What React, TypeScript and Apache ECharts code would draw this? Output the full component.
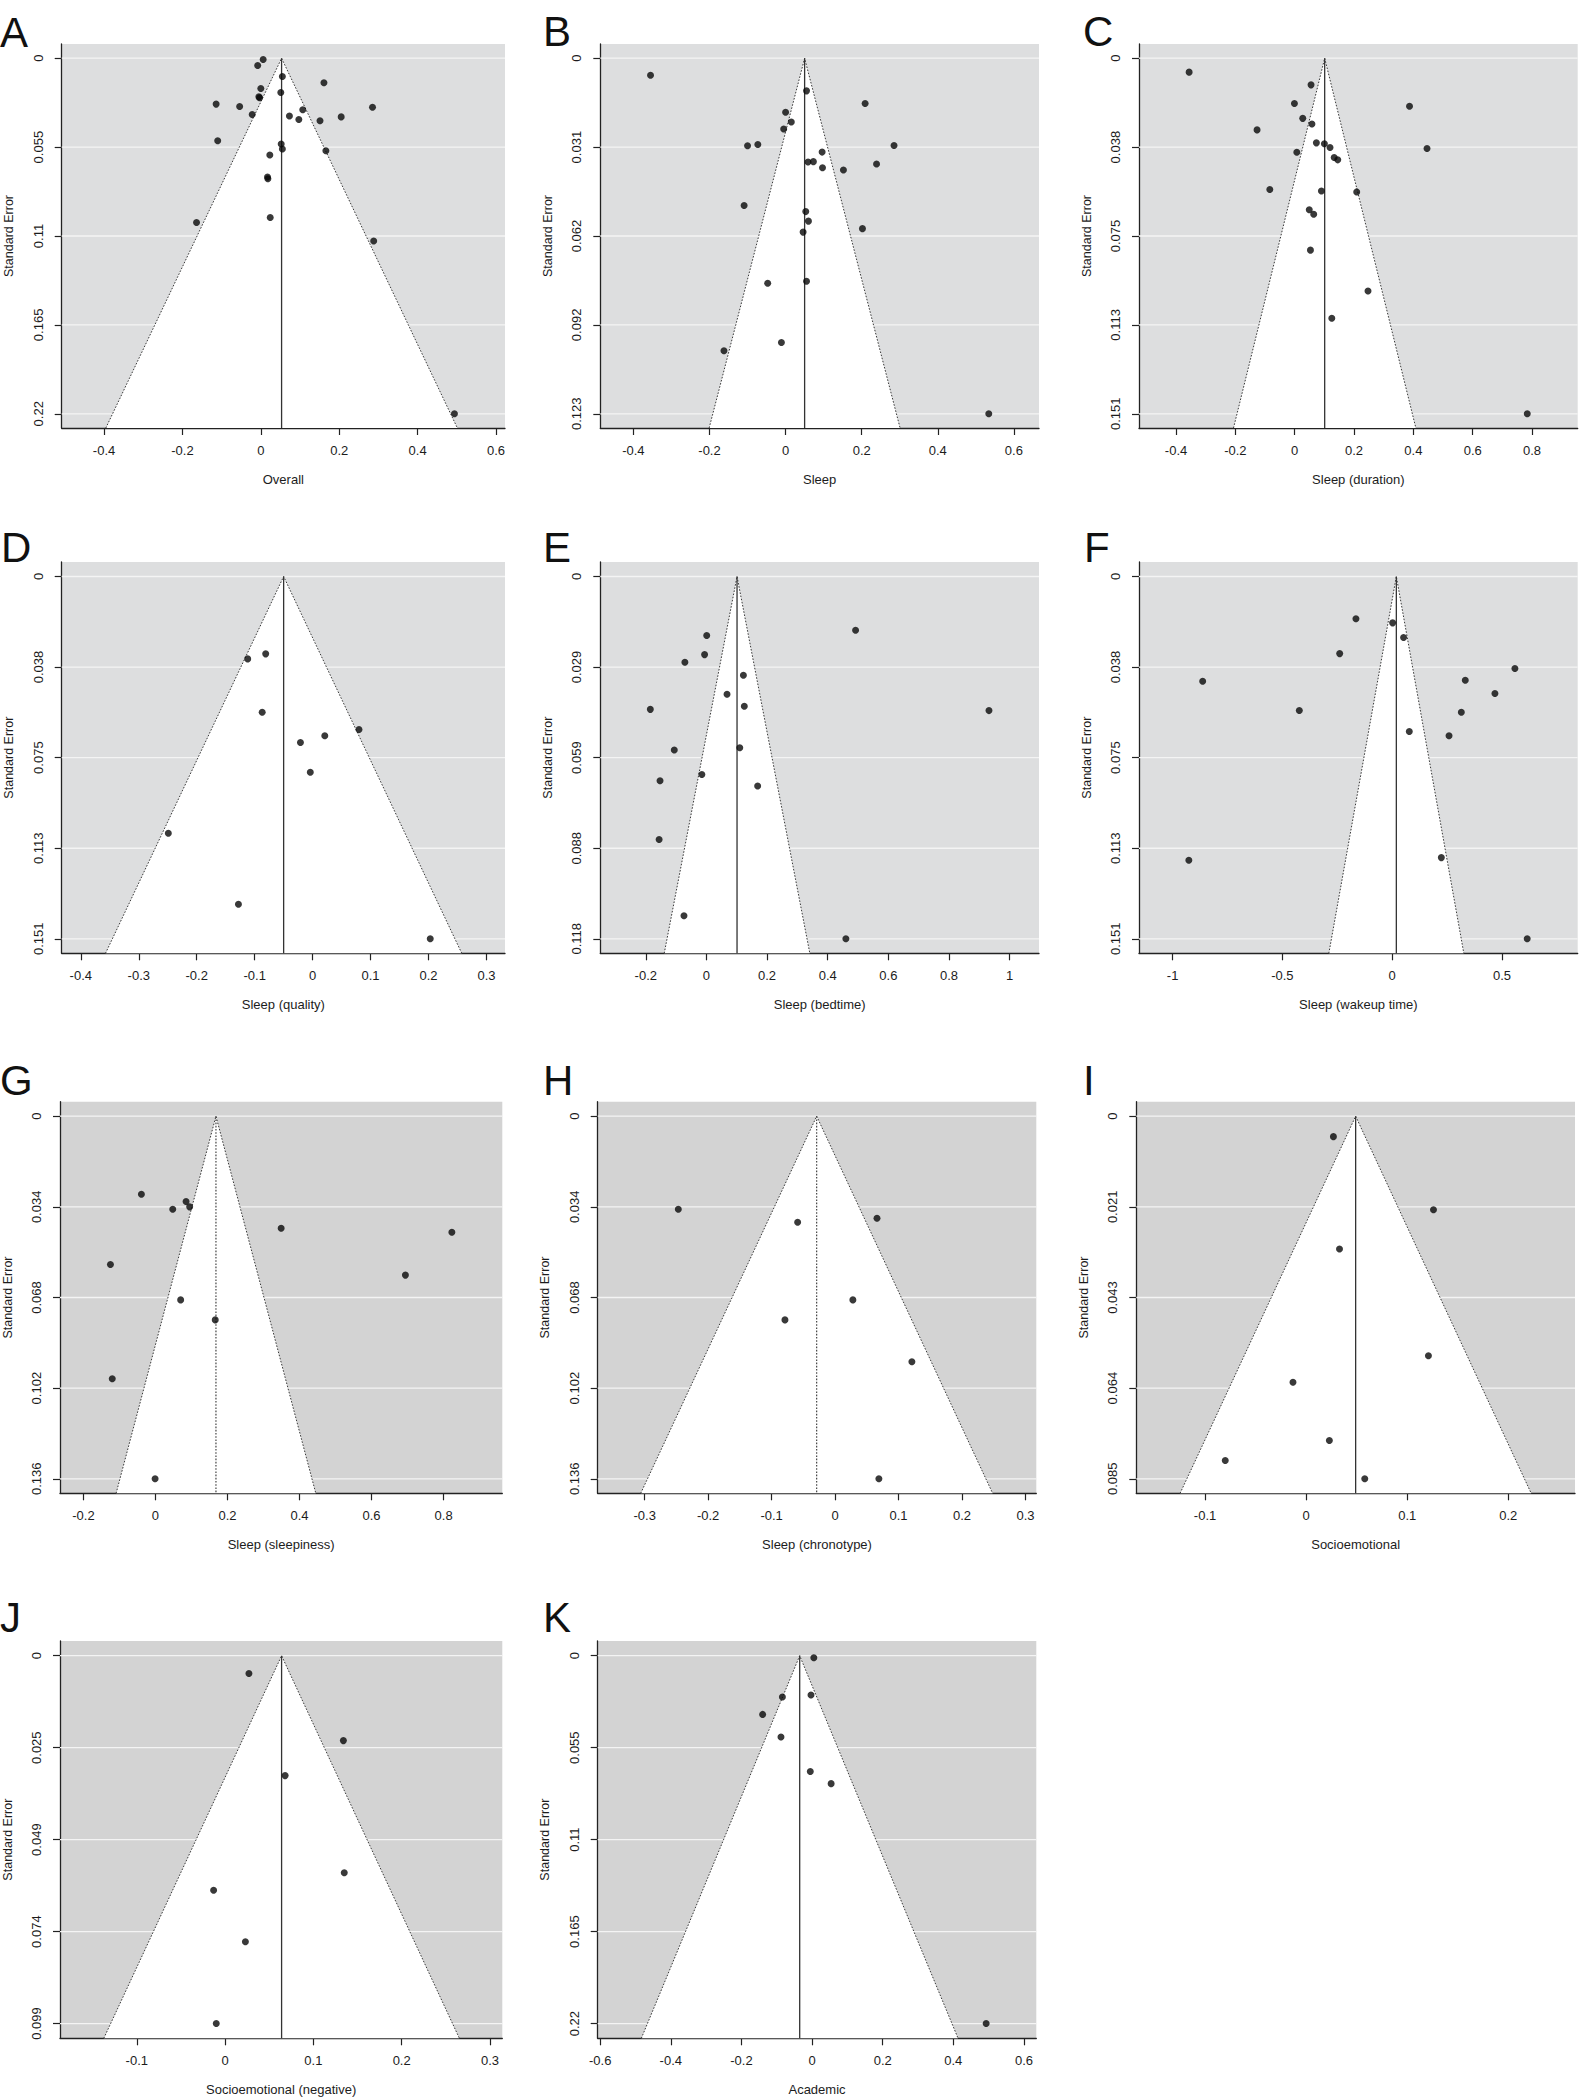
import React, { useEffect, useRef } from "react";
import * as echarts from "echarts";

// ---------- Panel meta ----------
const panelLetters = ["A", "B", "C", "D", "E", "F", "G", "H", "I", "J", "K"];
const effectTitles = [
  "Overall",
  "Sleep",
  "Sleep (duration)",
  "Sleep (quality)",
  "Sleep (bedtime)",
  "Sleep (wakeup time)",
  "Sleep (sleepiness)",
  "Sleep (chronotype)",
  "Socioemotional",
  "Socioemotional (negative)",
  "Academic",
];
const pooledEstimates = [0.053, 0.05, 0.101, -0.05, 0.101, 0.019, 0.168, -0.029, 0.049, 0.064, -0.035];
const dottedEstimateLine = [false, false, false, false, false, false, true, true, false, false, false];
const maxStandardError = [0.22, 0.1231, 0.1508, 0.1508, 0.1178, 0.1508, 0.136, 0.136, 0.0852, 0.0988, 0.22];
const seTickLabels = [
  ["0", "0.055", "0.11", "0.165", "0.22"],
  ["0", "0.031", "0.062", "0.092", "0.123"],
  ["0", "0.038", "0.075", "0.113", "0.151"],
  ["0", "0.038", "0.075", "0.113", "0.151"],
  ["0", "0.029", "0.059", "0.088", "0.118"],
  ["0", "0.038", "0.075", "0.113", "0.151"],
  ["0", "0.034", "0.068", "0.102", "0.136"],
  ["0", "0.034", "0.068", "0.102", "0.136"],
  ["0", "0.021", "0.043", "0.064", "0.085"],
  ["0", "0.025", "0.049", "0.074", "0.099"],
  ["0", "0.055", "0.11", "0.165", "0.22"],
];
const effectTicks = [
  [-0.4, -0.2, 0, 0.2, 0.4, 0.6],
  [-0.4, -0.2, 0, 0.2, 0.4, 0.6],
  [-0.4, -0.2, 0, 0.2, 0.4, 0.6, 0.8],
  [-0.4, -0.3, -0.2, -0.1, 0, 0.1, 0.2, 0.3],
  [-0.2, 0, 0.2, 0.4, 0.6, 0.8, 1],
  [-1, -0.5, 0, 0.5],
  [-0.2, 0, 0.2, 0.4, 0.6, 0.8],
  [-0.3, -0.2, -0.1, 0, 0.1, 0.2, 0.3],
  [-0.1, 0, 0.1, 0.2],
  [-0.1, 0, 0.1, 0.2, 0.3],
  [-0.6, -0.4, -0.2, 0, 0.2, 0.4, 0.6],
];
const effectMin = [-0.508, -0.487, -0.525, -0.433, -0.35, -1.153, -0.265, -0.374, -0.168, -0.187, -0.607];
const effectMax = [0.623, 0.666, 0.954, 0.332, 1.097, 0.845, 0.963, 0.317, 0.266, 0.314, 0.635];

// ---------- Study-level data ----------
const overallEffect = [0.006, -0.008, 0.055, 0.161, 0.0, 0.051, -0.005, -0.003, -0.114, -0.054, 0.285, 0.107, -0.022, 0.073, 0.205, 0.097, 0.151, -0.11, 0.052, 0.055, 0.166, 0.023, 0.017, 0.018, 0.024, -0.164, 0.288, 0.494];
const overallSE = [0.0008, 0.0045, 0.0113, 0.0152, 0.0187, 0.0212, 0.0239, 0.0245, 0.0284, 0.0299, 0.0303, 0.0319, 0.0348, 0.0358, 0.0363, 0.0379, 0.0387, 0.0511, 0.0531, 0.0562, 0.0573, 0.0599, 0.0735, 0.0746, 0.0985, 0.1016, 0.1131, 0.22];

const sleepEffect = [-0.355, 0.055, 0.209, 0.0, 0.015, -0.005, -0.1, -0.073, 0.285, 0.096, 0.059, 0.073, 0.239, 0.097, 0.152, -0.109, 0.053, 0.06, 0.202, 0.046, -0.047, 0.055, -0.011, -0.162, 0.534];
const sleepSE = [0.0059, 0.0113, 0.0157, 0.0187, 0.0221, 0.0245, 0.0303, 0.0299, 0.0302, 0.0325, 0.0359, 0.0358, 0.0366, 0.0379, 0.0387, 0.051, 0.0531, 0.0564, 0.059, 0.0602, 0.0779, 0.0772, 0.0984, 0.1013, 0.1231];

const durationEffect = [-0.356, 0.055, -0.001, 0.387, 0.027, 0.058, -0.127, 0.073, 0.1, 0.119, 0.446, 0.007, 0.133, 0.145, -0.084, 0.09, 0.209, 0.049, 0.064, 0.053, 0.247, 0.125, 0.784];
const durationSE = [0.0059, 0.0113, 0.0192, 0.0204, 0.0255, 0.0279, 0.0304, 0.0359, 0.0363, 0.0379, 0.0383, 0.0399, 0.0421, 0.0431, 0.0557, 0.0563, 0.0567, 0.0643, 0.0662, 0.0814, 0.0987, 0.1103, 0.1508];

const qualityEffect = [-0.081, -0.112, -0.087, 0.08, 0.021, -0.021, -0.004, -0.249, -0.128, 0.203];
const qualitySE = [0.0322, 0.0343, 0.0565, 0.0637, 0.0663, 0.0691, 0.0815, 0.1069, 0.1364, 0.1508];

const bedtimeEffect = [0.492, 0.001, -0.006, -0.071, 0.122, 0.068, 0.125, -0.185, 0.932, 0.11, -0.106, -0.015, -0.153, 0.169, -0.156, -0.074, 0.46];
const bedtimeSE = [0.0175, 0.0192, 0.0254, 0.0279, 0.0321, 0.0383, 0.0422, 0.0432, 0.0436, 0.0557, 0.0564, 0.0644, 0.0664, 0.0681, 0.0855, 0.1103, 0.1178];

const wakeupEffect = [-0.165, 0.002, 0.052, -0.239, 0.559, -0.863, 0.333, 0.468, -0.423, 0.315, 0.078, 0.259, -0.926, 0.224, 0.615];
const wakeupSE = [0.0176, 0.0193, 0.0254, 0.0321, 0.0383, 0.0436, 0.0432, 0.0487, 0.0558, 0.0565, 0.0645, 0.0663, 0.1181, 0.117, 0.1508];

const sleepinessEffect = [-0.039, 0.085, 0.095, 0.048, 0.349, 0.823, -0.125, 0.694, 0.07, 0.166, -0.12, -0.001];
const sleepinessSE = [0.0293, 0.032, 0.034, 0.0349, 0.042, 0.0435, 0.0556, 0.0596, 0.0689, 0.0764, 0.0985, 0.136];

const chronotypeEffect = [-0.247, -0.059, 0.066, 0.028, -0.079, 0.121, 0.069];
const chronotypeSE = [0.0349, 0.0398, 0.0383, 0.0689, 0.0764, 0.0921, 0.136];

const socioEffect = [0.027, 0.126, 0.033, 0.121, -0.013, 0.023, -0.08, 0.058];
const socioSE = [0.0048, 0.022, 0.0312, 0.0563, 0.0625, 0.0762, 0.0809, 0.0852];

const socioNegEffect = [0.027, 0.134, 0.068, 0.135, -0.013, 0.023, -0.01];
const socioNegSE = [0.0048, 0.0228, 0.0322, 0.0583, 0.063, 0.0768, 0.0988];

const academicEffect = [0.005, -0.003, -0.084, -0.14, -0.088, -0.005, 0.054, 0.493];
const academicSE = [0.0012, 0.0235, 0.0247, 0.0351, 0.0486, 0.0692, 0.0765, 0.22];

const studyEffects = [overallEffect, sleepEffect, durationEffect, qualityEffect, bedtimeEffect, wakeupEffect, sleepinessEffect, chronotypeEffect, socioEffect, socioNegEffect, academicEffect];
const studySEs = [overallSE, sleepSE, durationSE, qualitySE, bedtimeSE, wakeupSE, sleepinessSE, chronotypeSE, socioSE, socioNegSE, academicSE];

// ---------- Layout (pixels) ----------
const gridRects = [
  { left: 61.7, top: 44, width: 443.3, height: 384 },
  { left: 600.3, top: 44, width: 438.7, height: 384 },
  { left: 1139, top: 44, width: 438.7, height: 384 },
  { left: 61.7, top: 562, width: 443.3, height: 391.3 },
  { left: 600.3, top: 562, width: 438.7, height: 391.3 },
  { left: 1139, top: 562, width: 438.7, height: 391.3 },
  { left: 59, top: 1101.7, width: 443.3, height: 391.6 },
  { left: 597.7, top: 1101.7, width: 438.6, height: 391.6 },
  { left: 1136.3, top: 1101.7, width: 438.7, height: 391.6 },
  { left: 59, top: 1641, width: 443.3, height: 397.3 },
  { left: 597.7, top: 1641, width: 438.6, height: 397.3 },
];
const letterPos = [
  [0, 32], [543, 31], [1083, 31],
  [1, 547], [543, 547], [1084, 547],
  [0, 1080], [543, 1080], [1083, 1080],
  [0, 1617], [543, 1617],
];
const bgColors = ["#dddedf", "#dddedf", "#dddedf", "#dddedf", "#dddedf", "#dddedf", "#d3d3d3", "#d3d3d3", "#d3d3d3", "#d3d3d3", "#d3d3d3"];

const FONT = "'Liberation Sans', Arial, Helvetica, sans-serif";
const INK = "#1c1c1c";

function buildOption() {
  const grid: any[] = [];
  const xAxis: any[] = [];
  const yAxis: any[] = [];
  const series: any[] = [];
  const graphic: any[] = [];

  panelLetters.forEach((letter, i) => {
    const M = maxStandardError[i];
    const yMin = -0.04 * M;
    const yMax = 1.04 * M;
    const seTicks = [0, M / 4, M / 2, (3 * M) / 4, M];
    const labels = seTickLabels[i];
    const est = pooledEstimates[i];
    const dotted = dottedEstimateLine[i];

    grid.push({
      ...gridRects[i],
      show: true,
      backgroundColor: bgColors[i],
      borderWidth: 0,
      containLabel: false,
    });

    xAxis.push({
      type: "value",
      gridIndex: i,
      min: effectMin[i],
      max: effectMax[i],
      name: effectTitles[i],
      nameLocation: "middle",
      nameGap: 45,
      nameTextStyle: { fontFamily: FONT, fontSize: 13, color: INK },
      axisLine: { show: true, onZero: false, lineStyle: { color: "#222", width: 1.3 } },
      axisTick: { show: true, length: 7, customValues: effectTicks[i], lineStyle: { color: "#222", width: 1.2 } },
      axisLabel: {
        customValues: effectTicks[i],
        margin: 16,
        fontFamily: FONT,
        fontSize: 13,
        color: INK,
        formatter: (v: number) => String(Math.round(v * 1000) / 1000),
      },
      splitLine: { show: false },
    });

    yAxis.push({
      type: "value",
      gridIndex: i,
      inverse: true,
      min: yMin,
      max: yMax,
      name: "Standard Error",
      nameLocation: "middle",
      nameRotate: 90,
      nameGap: 46,
      nameTextStyle: { fontFamily: FONT, fontSize: 12.5, color: INK },
      axisLine: { show: true, onZero: false, lineStyle: { color: "#222", width: 1.3 } },
      axisTick: { show: true, length: 7, customValues: seTicks, lineStyle: { color: "#222", width: 1.2 } },
      axisLabel: {
        customValues: seTicks,
        rotate: 90,
        margin: 17,
        fontFamily: FONT,
        fontSize: 13,
        color: INK,
        formatter: (v: number) => {
          const idx = Math.max(0, Math.min(4, Math.round(v / (M / 4))));
          return labels[idx];
        },
      },
      splitLine: { show: false },
    });

    // funnel, gridlines, pooled estimate line
    series.push({
      type: "custom",
      xAxisIndex: i,
      yAxisIndex: i,
      silent: true,
      z: 1,
      data: [[est, 0]],
      renderItem: (params: any, api: any) => {
        const cs = params.coordSys;
        const e = api.value(0);
        const apex = api.coord([e, 0]);
        const bl = api.coord([e - 1.96 * yMax, yMax]);
        const br = api.coord([e + 1.96 * yMax, yMax]);
        const vb = api.coord([e, yMax]);
        const children: any[] = [];
        seTicks.forEach((t) => {
          const p = api.coord([e, t]);
          children.push({
            type: "line",
            shape: { x1: cs.x, y1: p[1], x2: cs.x + cs.width, y2: p[1] },
            style: { stroke: "#f4f4f4", lineWidth: 1.3 },
          });
        });
        children.push({
          type: "polygon",
          shape: { points: [apex, bl, br] },
          style: { fill: "#ffffff" },
        });
        children.push({
          type: "polyline",
          shape: { points: [bl, apex, br] },
          style: { stroke: "#3a3a3a", lineWidth: 1, lineDash: [1.6, 1.6], fill: "none" },
        });
        children.push({
          type: "line",
          shape: { x1: apex[0], y1: apex[1], x2: vb[0], y2: vb[1] },
          style: dotted
            ? { stroke: "#333", lineWidth: 1.1, lineDash: [1.6, 1.6] }
            : { stroke: "#333", lineWidth: 1.3 },
        });
        return { type: "group", children };
      },
    });

    const pts = studyEffects[i].map((x, k) => [x, studySEs[i][k]]);
    series.push({
      type: "scatter",
      xAxisIndex: i,
      yAxisIndex: i,
      z: 3,
      symbol: "circle",
      symbolSize: 7,
      itemStyle: { color: "#080808" },
      data: pts,
      silent: true,
    });

    graphic.push({
      type: "text",
      x: letterPos[i][0],
      y: letterPos[i][1],
      style: {
        text: letter,
        fontFamily: FONT,
        fontSize: 42,
        fill: "#111",
        align: "left",
        verticalAlign: "middle",
      },
    });
  });

  return {
    animation: false,
    backgroundColor: "#ffffff",
    textStyle: { fontFamily: FONT },
    grid,
    xAxis,
    yAxis,
    series,
    graphic,
  };
}

export default function App() {
  const ref = useRef<HTMLDivElement>(null);
  useEffect(() => {
    if (!ref.current) return;
    const chart = echarts.init(ref.current, undefined, { renderer: "svg" });
    chart.setOption(buildOption() as any);
    return () => chart.dispose();
  }, []);
  return (
    <div
      ref={ref}
      style={{ position: "absolute", left: 0, top: 0, width: 1585, height: 2100, background: "#fff" }}
    />
  );
}
